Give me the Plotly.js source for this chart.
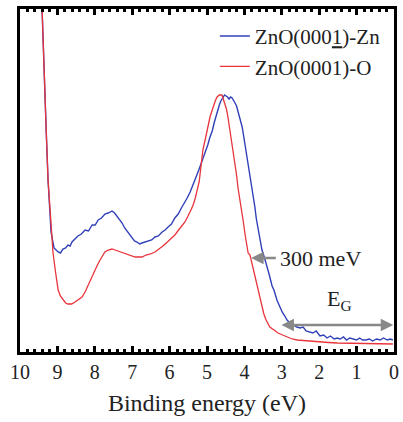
<!DOCTYPE html>
<html>
<head>
<meta charset="utf-8">
<script src="https://cdn.plot.ly/plotly-3.0.1.min.js"></script>
<style>
html,body{margin:0;padding:0;background:#fff;}
#chart{width:403px;height:422px;}
#chart svg text{font-family:'Liberation Serif','Times New Roman',Times,serif !important;}
</style>
</head>
<body>
<div id="chart"></div>
<script>
// Binding energy (eV) and intensity (arb. units)
const energyZn = [9.5, 9.41, 9.3, 9.25, 9.17, 9.09, 8.98, 8.92, 8.85, 8.78, 8.72, 8.66, 8.61, 8.53, 8.45, 8.36, 8.26, 8.17, 8.07, 7.99, 7.91, 7.82, 7.73, 7.64, 7.54, 7.47, 7.41, 7.34, 7.27, 7.2, 7.14, 7.07, 7.0, 6.94, 6.87, 6.8, 6.74, 6.66, 6.58, 6.48, 6.39, 6.3, 6.2, 6.12, 6.04, 5.95, 5.86, 5.77, 5.67, 5.6, 5.53, 5.45, 5.37, 5.32, 5.27, 5.23, 5.19, 5.12, 5.05, 4.98, 4.92, 4.86, 4.81, 4.76, 4.71, 4.67, 4.63, 4.6, 4.57, 4.53, 4.49, 4.45, 4.41, 4.37, 4.33, 4.29, 4.25, 4.21, 4.17, 4.11, 4.06, 4.02, 3.98, 3.94, 3.9, 3.85, 3.8, 3.76, 3.72, 3.68, 3.64, 3.58, 3.53, 3.47, 3.42, 3.37, 3.32, 3.26, 3.21, 3.17, 3.13, 3.06, 2.99, 2.92, 2.86, 2.78, 2.7, 2.6, 2.51, 2.43, 2.35, 2.26, 2.17, 2.08, 1.98, 1.88, 1.79, 1.7, 1.6, 1.52, 1.44, 1.35, 1.27, 1.18, 1.1, 1.0, 0.92, 0.84, 0.75, 0.66, 0.57, 0.47, 0.37, 0.28, 0.18, 0.1, 0.03];
const intensityZn = [420, 343, 222, 172, 120, 104, 100, 99, 103, 104, 107, 106, 110, 113, 116, 118, 122, 121, 127, 127, 132, 134, 138, 139, 141, 139, 136, 132, 129, 124, 121, 117, 114, 111, 110, 108, 109, 110, 111, 112, 115, 116, 120, 122, 125, 128, 134, 138, 145, 149, 154, 160, 167, 172, 177, 181, 185, 192, 200, 207, 215, 221, 229, 236, 242, 247, 251, 253, 255, 257, 256, 255, 253, 255, 254, 252, 249, 246, 240, 233, 225, 216, 207, 198, 189, 176, 164, 154, 145, 133, 124, 112, 102, 95, 87, 82, 75, 66, 62, 56, 52, 46, 40, 36, 32, 29, 27, 25, 24, 25, 21, 20, 19, 21, 16, 17, 14, 16, 13, 14, 13, 15, 12, 14, 13, 12, 14, 12, 12, 13, 11, 13, 12, 14, 12, 13, 12];
const energyO = [9.5, 9.41, 9.3, 9.25, 9.14, 9.12, 9.05, 8.98, 8.92, 8.85, 8.78, 8.72, 8.62, 8.53, 8.44, 8.34, 8.26, 8.18, 8.09, 8.0, 7.93, 7.86, 7.8, 7.73, 7.64, 7.54, 7.46, 7.38, 7.28, 7.19, 7.1, 7.0, 6.92, 6.84, 6.74, 6.63, 6.51, 6.39, 6.28, 6.18, 6.06, 5.94, 5.86, 5.78, 5.69, 5.59, 5.52, 5.45, 5.38, 5.32, 5.26, 5.21, 5.16, 5.11, 5.05, 5.0, 4.96, 4.92, 4.86, 4.81, 4.77, 4.73, 4.67, 4.6, 4.56, 4.52, 4.48, 4.44, 4.4, 4.36, 4.3, 4.25, 4.21, 4.17, 4.11, 4.06, 4.02, 3.98, 3.94, 3.9, 3.85, 3.8, 3.74, 3.7, 3.66, 3.6, 3.53, 3.48, 3.42, 3.37, 3.32, 3.21, 3.1, 2.98, 2.86, 2.72, 2.59, 2.46, 2.33, 2.15, 1.98, 1.75, 1.52, 1.2, 0.91, 0.5, 0.03];
const intensityO = [420, 343, 222, 172, 112, 100, 80, 62, 56, 52, 49, 48, 48, 50, 52, 55, 60, 67, 74, 82, 87, 92, 96, 100, 102, 103, 102, 101, 99, 98, 97, 96, 95, 95, 95, 97, 98, 100, 103, 106, 110, 114, 117, 121, 125, 130, 135, 140, 146, 153, 161, 170, 186, 202, 212, 222, 229, 235, 242, 248, 252, 255, 257, 257, 253, 249, 243, 235, 225, 214, 202, 189, 177, 164, 151, 139, 128, 117, 108, 99, 97, 89, 80, 75, 69, 58, 45, 38, 32, 28, 25, 22, 19, 17, 15, 13, 12, 11.5, 11, 10.5, 10, 9.5, 9, 8.7, 8.5, 8.2, 8];
const xTickVals = [10, 9, 8, 7, 6, 5, 4, 3, 2, 1, 0];
const xTickText = ['10', '9', '8', '7', '6', '5', '4', '3', '2', '1', '0'];
const seriesNames = ['ZnO(000<u>1</u>)-Zn', 'ZnO(0001)-O'];

const FONT_FAMILY = 'Liberation Serif';

const traces = [
  {x: energyZn, y: intensityZn, type: 'scatter', mode: 'lines', name: seriesNames[0],
   line: {color: '#3040b8', width: 1.4}},
  {x: energyO, y: intensityO, type: 'scatter', mode: 'lines', name: seriesNames[1],
   line: {color: '#e8343c', width: 1.3}}
];

const layout = {
  width: 403, height: 422,
  margin: {l: 20, r: 9, t: 9, b: 70},
  paper_bgcolor: '#fff', plot_bgcolor: '#fff',
  font: {family: FONT_FAMILY, color: '#222'},
  showlegend: true,
  legend: {x: 0.521, y: 0.98, xanchor: 'left', yanchor: 'top', bgcolor: 'rgba(0,0,0,0)',
           font: {family: FONT_FAMILY, size: 21, color: '#222'}, tracegroupgap: 0, itemwidth: 30},
  xaxis: {
    range: [10, 0], tickvals: xTickVals, ticktext: xTickText,
    ticks: 'inside', ticklen: 6, tickwidth: 2.5, tickcolor: '#000',
    minor: {dtick: 0.2, ticks: 'inside', ticklen: 3, tickwidth: 2.5, tickcolor: '#000'},
    showline: true, linewidth: 3, linecolor: '#000', mirror: 'allticks',
    showgrid: false, zeroline: false,
    tickfont: {family: FONT_FAMILY, size: 20, color: '#222'},
    title: {text: 'Binding energy (eV)', font: {family: FONT_FAMILY, size: 24, color: '#222'}, standoff: 13}
  },
  yaxis: {
    range: [0, 343], showticklabels: false, ticks: '', showgrid: false, zeroline: false,
    showline: true, linewidth: 3, linecolor: '#000', mirror: true
  },
  annotations: [
    {x: 3.82, y: 94, xref: 'x', yref: 'y', ax: 3.12, ay: 94, axref: 'x', ayref: 'y',
     text: '', showarrow: true, arrowhead: 2, arrowsize: 1, arrowwidth: 2.5, arrowcolor: '#888'},
    {x: 3.1, y: 94, xref: 'x', yref: 'y', xanchor: 'left', yanchor: 'middle', showarrow: false,
     text: '300 meV', font: {family: FONT_FAMILY, size: 22, color: '#222'}},
    {x: 0.02, y: 27, xref: 'x', yref: 'y', ax: 3.05, ay: 27, axref: 'x', ayref: 'y',
     text: '', showarrow: true, arrowhead: 2, startarrowhead: 2, arrowside: 'end+start',
     arrowsize: 1, startarrowsize: 1, arrowwidth: 2.5, arrowcolor: '#888'},
    {x: 1.45, y: 52, xref: 'x', yref: 'y', xanchor: 'center', yanchor: 'middle', showarrow: false,
     text: 'E<sub>G</sub>', font: {family: FONT_FAMILY, size: 22, color: '#222'}}
  ]
};

Plotly.newPlot('chart', traces, layout, {displayModeBar: false});
if (document.fonts && document.fonts.ready) {
  document.fonts.ready.then(function () { Plotly.react('chart', traces, layout, {displayModeBar: false}); });
}
</script>
</body>
</html>
